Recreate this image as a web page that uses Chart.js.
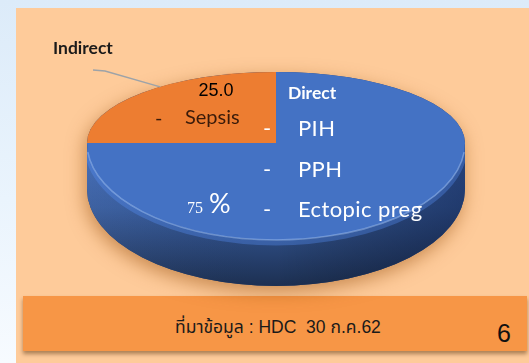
<!DOCTYPE html>
<html>
<head>
<meta charset="utf-8">
<script src="https://cdn.jsdelivr.net/npm/chart.js@4.4.1/dist/chart.umd.min.js"></script>
<style>
  html, body { margin: 0; padding: 0; }
  body {
    width: 529px; height: 363px; position: relative; overflow: hidden;
    background: linear-gradient(180deg, #dcebf9 0%, #eaf4fd 55%, #f7fbff 100%);
  }
  #panel { position: absolute; left: 16px; top: 8px; right: 0; bottom: 0; background: #FECB9A; }
  #footer {
    position: absolute; left: 23px; top: 296px; width: 504px; height: 55px;
    background: #F79646; box-shadow: 0 3px 4px rgba(70, 35, 0, 0.45);
  }
  #source {
    position: absolute; left: 175px; top: 319px; font-size: 17.5px; line-height: 17.5px;
    font-family: "Liberation Sans", Tahoma, "Noto Sans Thai", sans-serif;
    color: #1a1a1a; white-space: pre;
  }
  #pageNo {
    position: absolute; left: 497px; top: 321px; font-size: 25px; line-height: 25px;
    font-family: "Liberation Sans", Arial, sans-serif; color: #111;
  }
  #pie { position: absolute; left: 0; top: 0; }
</style>
</head>
<body>
<div id="panel"></div>
<div id="footer"></div>
<div id="source"></div>
<div id="pageNo"></div>
<canvas id="pie" width="529" height="363"></canvas>
<script>
// Maternal death causes: share of direct vs indirect causes (%)
const categories = ['Direct', 'Indirect'];
const shares = [75, 25];
const directCauses = ['PIH', 'PPH', 'Ectopic preg'];
const indirectCauses = ['Sepsis'];
const sliceColors = ['#4472C4', '#ED7D31'];
const sourceNote = 'ที่มาข้อมูล : HDC  30 ก.ค.62';
const pageNumber = '6';

document.getElementById('source').textContent = sourceNote;
document.getElementById('pageNo').textContent = pageNumber;

// Look of the tilted disc: vertical squash of the far and near halves, and thickness
const TILT_BACK = 0.376;
const TILT_FRONT = 0.513;
const THICKNESS = 0.243;

function shade(hex, f, a) {
  const n = parseInt(hex.slice(1), 16);
  const c = [(n >> 16) & 255, (n >> 8) & 255, n & 255].map(v => Math.min(255, Math.round(v * f)));
  return a === undefined ? `rgb(${c.join(',')})` : `rgba(${c.join(',')},${a})`;
}

// Parts of an arc that face the viewer (angles between 0 and PI)
function frontParts(arc) {
  const out = [];
  for (const k of [-2, 0, 2]) {
    const lo = Math.max(arc.startAngle + k * Math.PI, 0);
    const hi = Math.min(arc.endAngle + k * Math.PI, Math.PI);
    if (hi > lo) out.push([lo, hi]);
  }
  return out;
}

const disc3d = {
  id: 'disc3d',
  beforeDatasetsDraw(chart) {
    const ctx = chart.ctx;
    const arcs = chart.getDatasetMeta(0).data;
    const { x: cx, y: cy, outerRadius: R } = arcs[0];
    const ryT = R * TILT_BACK, ryB = R * TILT_FRONT, depth = R * THICKNESS;

    // soft drop shadow under the whole disc
    ctx.save();
    ctx.shadowColor = 'rgba(150, 75, 10, 0.5)';
    ctx.shadowBlur = 18;
    ctx.shadowOffsetY = 6;
    ctx.shadowOffsetX = -2;
    ctx.beginPath();
    ctx.ellipse(cx, cy, R, ryT, 0, Math.PI, 2 * Math.PI);
    ctx.ellipse(cx, cy + depth, R, ryB, 0, 0, Math.PI);
    ctx.closePath();
    ctx.fillStyle = shade(sliceColors[0], 0.6);
    ctx.fill();
    ctx.restore();

    // side wall of each slice that faces the viewer
    arcs.forEach((arc, i) => {
      const col = sliceColors[i];
      frontParts(arc).forEach(([lo, hi]) => {
        ctx.save();
        ctx.beginPath();
        ctx.ellipse(cx, cy, R, ryB, 0, lo, hi);
        ctx.ellipse(cx, cy + depth, R, ryB, 0, hi, lo, true);
        ctx.closePath();
        const gv = ctx.createLinearGradient(0, cy, 0, cy + ryB + depth);
        gv.addColorStop(0, shade(col, 0.95));
        gv.addColorStop(0.45, shade(col, 0.8));
        gv.addColorStop(1, shade(col, 0.42));
        ctx.fillStyle = gv;
        ctx.fill();
        const gh = ctx.createLinearGradient(cx - R, 0, cx + R, 0);
        gh.addColorStop(0, 'rgba(255,255,255,0.04)');
        gh.addColorStop(0.5, 'rgba(0,0,0,0)');
        gh.addColorStop(1, 'rgba(0,8,35,0.4)');
        ctx.fillStyle = gh;
        ctx.fill();
        // rounded bevel highlight along the upper rim of the wall
        ctx.clip();
        ctx.beginPath();
        ctx.ellipse(cx, cy + 3, R, ryB, 0, lo, hi);
        ctx.lineWidth = 5;
        ctx.strokeStyle = shade(col, 1.25, 0.35);
        ctx.stroke();
        ctx.restore();
      });
    });

    // top face: far half and near half squashed differently
    const halves = [
      [0, cy + 1, TILT_BACK],
      [cy, chart.height - cy, TILT_FRONT]
    ];
    halves.forEach(([y0, h, s]) => {
      ctx.save();
      ctx.beginPath();
      ctx.rect(0, y0, chart.width, h);
      ctx.clip();
      ctx.translate(0, cy);
      ctx.scale(1, s);
      ctx.translate(0, -cy);
      arcs.forEach(a => a.draw(ctx));
      ctx.restore();
    });

    // light rim on the near edge of the top face
    ctx.save();
    ctx.beginPath();
    ctx.ellipse(cx, cy, R, ryB, 0, 0.03 * Math.PI, 0.97 * Math.PI);
    ctx.lineWidth = 1.5;
    ctx.strokeStyle = 'rgba(150,185,240,0.6)';
    ctx.stroke();
    ctx.restore();
    return false;
  },
  afterDraw(chart) {
    const ctx = chart.ctx;
    const arcs = chart.getDatasetMeta(0).data;
    const { x: cx, y: cy, outerRadius: R } = arcs[0];
    const ryT = R * TILT_BACK;
    const ind = arcs[1];

    ctx.save();
    // leader from the "Indirect" caption to its slice
    const t = ind.startAngle + 0.58 * (ind.endAngle - ind.startAngle);
    ctx.beginPath();
    ctx.moveTo(93, 70);
    ctx.lineTo(105, 71);
    ctx.lineTo(cx + R * Math.cos(t), cy + ryT * Math.sin(t));
    ctx.strokeStyle = '#9da3a8';
    ctx.lineWidth = 1.5;
    ctx.stroke();

    ctx.textBaseline = 'alphabetic';
    ctx.textAlign = 'left';
    ctx.fillStyle = '#1a1a1a';
    ctx.font = 'bold 17.5px Lato';
    ctx.fillText(categories[1], 53, 54);

    // indirect slice: value and causes
    ctx.fillStyle = '#000';
    ctx.font = '18px "Liberation Sans"';
    ctx.textAlign = 'center';
    ctx.fillText(shares[1].toFixed(1), 216, 96);
    ctx.textAlign = 'left';
    ctx.fillStyle = '#3a1b0a';
    ctx.font = '20px Lato';
    indirectCauses.forEach((c, i) => {
      ctx.fillText('-', 155, 125 + i * 40);
      ctx.fillText(c, 185, 124 + i * 40);
    });

    // direct slice: title, causes and share
    ctx.fillStyle = '#fff';
    ctx.font = 'bold 17.5px Lato';
    ctx.fillText(categories[0], 288, 99);
    ctx.font = '22px Lato';
    ctx.letterSpacing = '0.4px';
    directCauses.forEach((c, i) => {
      const y = 136 + i * 40.5;
      ctx.fillText('-', 263, y);
      ctx.fillText(c, 298, y);
    });
    ctx.letterSpacing = '0px';
    ctx.font = '16px "Liberation Serif"';
    ctx.fillText(String(shares[0]), 187, 213);
    ctx.font = '27px Lato';
    ctx.fillText('%', 209, 213);
    ctx.restore();
  }
};

new Chart(document.getElementById('pie'), {
  type: 'pie',
  data: {
    labels: categories,
    datasets: [{
      data: shares,
      backgroundColor: sliceColors,
      borderWidth: 0,
      radius: 189
    }]
  },
  options: {
    responsive: false,
    animation: false,
    events: [],
    layout: { padding: { left: 23, right: 0, top: 0, bottom: 77 } },
    plugins: { legend: { display: false }, tooltip: { enabled: false } }
  },
  plugins: [disc3d]
});
</script>
</body>
</html>
